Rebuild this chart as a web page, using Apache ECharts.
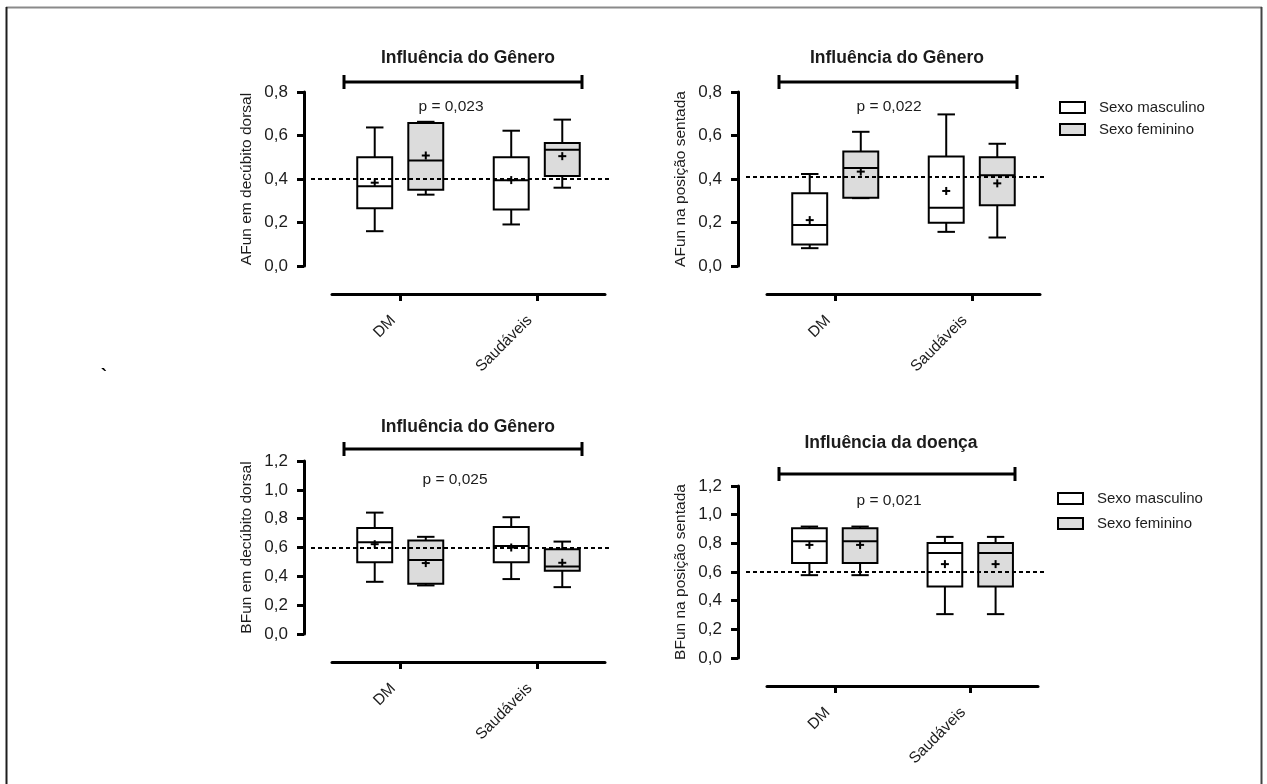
<!DOCTYPE html>
<html><head><meta charset="utf-8">
<script src="https://cdn.jsdelivr.net/npm/echarts@6/dist/echarts.min.js"></script>
<style>html,body{margin:0;padding:0;background:#fff;}#c{width:1267px;height:784px;}</style>
</head><body><div id="c"></div>
<script>
// ---- data ----
const categories = ['DM', 'Saudáveis'];
// each row: [min, Q1, median, Q3, max, mean] for DM and Saudáveis
const afunDorsalMasc  = [[0.160, 0.265, 0.367, 0.500, 0.637, 0.383], [0.191, 0.260, 0.394, 0.500, 0.622, 0.395]];
const afunDorsalFem   = [[0.328, 0.351, 0.485, 0.657, 0.663, 0.508], [0.360, 0.414, 0.534, 0.565, 0.673, 0.505]];
const afunSentadaMasc = [[0.082, 0.099, 0.188, 0.334, 0.423, 0.211], [0.157, 0.199, 0.268, 0.503, 0.697, 0.345]];
const afunSentadaFem  = [[0.312, 0.314, 0.451, 0.526, 0.617, 0.434], [0.131, 0.279, 0.417, 0.500, 0.562, 0.380]];
const bfunDorsalMasc  = [[0.362, 0.498, 0.637, 0.736, 0.842, 0.623], [0.381, 0.498, 0.611, 0.743, 0.810, 0.600]];
const bfunDorsalFem   = [[0.337, 0.348, 0.514, 0.648, 0.674, 0.492], [0.325, 0.438, 0.468, 0.588, 0.641, 0.494]];
const bfunSentadaMasc = [[0.578, 0.662, 0.815, 0.905, 0.917, 0.789], [0.306, 0.499, 0.733, 0.803, 0.845, 0.655]];
const bfunSentadaFem  = [[0.578, 0.662, 0.815, 0.905, 0.917, 0.789], [0.306, 0.499, 0.733, 0.803, 0.845, 0.655]];
const referenceValues = [0.40, 0.41, 0.595, 0.60];
const pValues = ['p = 0,023', 'p = 0,022', 'p = 0,025', 'p = 0,021'];
const panelTitles = ['Influência do Gênero', 'Influência do Gênero', 'Influência do Gênero', 'Influência da doença'];
const yAxisNames = ['AFun em decúbito dorsal', 'AFun na posição sentada', 'BFun em decúbito dorsal', 'BFun na posição sentada'];
const yAxisMax = [0.8, 0.8, 1.2, 1.2];
const yAxisInterval = 0.2;
const legendNames = ['Sexo masculino', 'Sexo feminino'];

const maleSets = [afunDorsalMasc, afunSentadaMasc, bfunDorsalMasc, bfunSentadaMasc];
const femaleSets = [afunDorsalFem, afunSentadaFem, bfunDorsalFem, bfunSentadaFem];

// ---- layout ----
const FONT = "'Liberation Sans', Arial, sans-serif";
const TXT = '#1c1c1c';
const FEM_FILL = '#dcdcdc';
const panels = [
  {left: 332, top: 92,  width: 273, height: 174, yOff: 28, xOff: 28, titleX: 468, titleY: 58,  pX: 451, pY: 107, brY: 82},
  {left: 767, top: 92,  width: 273, height: 174, yOff: 29, xOff: 28, titleX: 897, titleY: 58,  pX: 889, pY: 107, brY: 82},
  {left: 332, top: 461, width: 273, height: 173, yOff: 28, xOff: 28, titleX: 468, titleY: 427, pX: 455, pY: 480, brY: 449},
  {left: 767, top: 486, width: 271, height: 172, yOff: 29, xOff: 28, titleX: 891, titleY: 443, pX: 889, pY: 501, brY: 474}
];

function makeRender(offsetFrac, fill) {
  return function (params, api) {
    const c = api.value(0);
    const band = api.size([1, 0])[0];
    const cx = api.coord([c, 0])[0] + offsetFrac * band;
    const w = band * 0.256, half = w / 2, cap = w / 4;
    const y = i => api.coord([c, api.value(i)])[1];
    const yMin = y(1), yQ1 = y(2), yMed = y(3), yQ3 = y(4), yMax = y(5), yMean = y(6);
    const ls = {stroke: '#000', lineWidth: 2};
    const L = (x1, y1, x2, y2) => ({type: 'line', shape: {x1, y1, x2, y2}, style: ls});
    return {type: 'group', children: [
      L(cx, yQ3, cx, yMax), L(cx - cap, yMax, cx + cap, yMax),
      L(cx, yQ1, cx, yMin), L(cx - cap, yMin, cx + cap, yMin),
      {type: 'rect', shape: {x: cx - half, y: yQ3, width: w, height: yQ1 - yQ3}, style: {fill: fill, stroke: '#000', lineWidth: 2}},
      L(cx - half, yMed, cx + half, yMed),
      L(cx - 4, yMean, cx + 4, yMean), L(cx, yMean - 4, cx, yMean + 4)
    ]};
  };
}

const grid = [], xAxis = [], yAxis = [], series = [], graphic = [];
panels.forEach((p, i) => {
  grid.push({left: p.left, top: p.top, width: p.width, height: p.height});
  xAxis.push({
    gridIndex: i, type: 'category', data: categories, offset: p.xOff, position: 'bottom',
    axisLine: {show: true, onZero: false, lineStyle: {color: '#000', width: 3}},
    axisTick: {show: true, alignWithLabel: true, length: 7, lineStyle: {color: '#000', width: 3}},
    axisLabel: {rotate: 45, fontSize: 15.5, color: TXT, fontFamily: FONT, margin: 17, padding: [0, 10, 0, 0]},
    splitLine: {show: false}
  });
  yAxis.push({
    gridIndex: i, type: 'value', min: 0, max: yAxisMax[i], interval: yAxisInterval, offset: p.yOff, position: 'left',
    splitLine: {show: false},
    axisLine: {show: true, onZero: false, lineStyle: {color: '#000', width: 3}},
    axisTick: {show: true, length: 7, lineStyle: {color: '#000', width: 3}},
    axisLabel: {fontSize: 17, color: TXT, fontFamily: FONT, margin: 16, formatter: v => v.toFixed(1).replace('.', ',')},
    name: yAxisNames[i], nameLocation: 'middle', nameGap: 49,
    nameTextStyle: {fontSize: 15.5, color: TXT, fontFamily: FONT}
  });
  const toData = arr => arr.map((r, k) => [k].concat(r));
  series.push({
    type: 'custom', name: legendNames[0], xAxisIndex: i, yAxisIndex: i,
    renderItem: makeRender(-0.187, '#fff'),
    encode: {x: 0, y: [1, 2, 3, 4, 5, 6]},
    itemStyle: {color: '#fff', borderColor: '#000'},
    data: toData(maleSets[i]),
    markLine: {
      silent: true, symbol: 'none', animation: false, label: {show: false},
      lineStyle: {color: '#000', width: 2, type: [4, 3]},
      data: [[{x: p.left - 21, yAxis: referenceValues[i]}, {x: p.left + p.width + 7, yAxis: referenceValues[i]}]]
    }
  });
  series.push({
    type: 'custom', name: legendNames[1], xAxisIndex: i, yAxisIndex: i,
    renderItem: makeRender(0.187, FEM_FILL),
    encode: {x: 0, y: [1, 2, 3, 4, 5, 6]},
    itemStyle: {color: FEM_FILL, borderColor: '#000'},
    data: toData(femaleSets[i])
  });
  // titles, brackets, p-values
  graphic.push({type: 'text', x: p.titleX, y: p.titleY, style: {text: panelTitles[i], fontSize: 17.5, fontWeight: 'bold', fontFamily: FONT, fill: TXT, align: 'center', verticalAlign: 'middle'}});
  const bx1 = p.left + 12, bx2 = p.left + p.width - 23;
  const bl = {stroke: '#000', lineWidth: 3};
  graphic.push({type: 'line', shape: {x1: bx1, y1: p.brY, x2: bx2, y2: p.brY}, style: bl});
  graphic.push({type: 'line', shape: {x1: bx1, y1: p.brY - 7, x2: bx1, y2: p.brY + 7}, style: bl});
  graphic.push({type: 'line', shape: {x1: bx2, y1: p.brY - 7, x2: bx2, y2: p.brY + 7}, style: bl});
  graphic.push({type: 'text', x: p.pX, y: p.pY, style: {text: pValues[i], fontSize: 15.5, fontFamily: FONT, fill: TXT, align: 'center', verticalAlign: 'middle'}});
});

// frame
graphic.push({type: 'line', shape: {x1: 6, y1: 7.5, x2: 1262, y2: 7.5}, style: {stroke: '#8a8a8a', lineWidth: 2}});
graphic.push({type: 'line', shape: {x1: 6.5, y1: 7, x2: 6.5, y2: 784}, style: {stroke: '#1e1e1e', lineWidth: 2}});
graphic.push({type: 'line', shape: {x1: 1261.5, y1: 7, x2: 1261.5, y2: 784}, style: {stroke: '#444', lineWidth: 2}});
// stray mark
graphic.push({type: 'text', x: 101, y: 368, style: {text: '`', fontSize: 18, fontWeight: 'bold', fontFamily: FONT, fill: '#000'}});

const legendData = [
  {name: legendNames[0], itemStyle: {color: '#fff', borderColor: '#000', borderWidth: 2}},
  {name: legendNames[1], itemStyle: {color: FEM_FILL, borderColor: '#000', borderWidth: 2}}
];
const legendBase = {
  data: legendData, orient: 'vertical', icon: 'rect', itemWidth: 25, itemHeight: 11, itemGap: 7,
  selectedMode: false, padding: 0,
  textStyle: {fontSize: 15, fontFamily: FONT, color: TXT, padding: [0, 0, 0, 9]}
};

const chart = echarts.init(document.getElementById('c'), null, {renderer: 'canvas'});
chart.setOption({
  animation: false,
  backgroundColor: '#fff',
  grid, xAxis, yAxis, series,
  legend: [
    Object.assign({}, legendBase, {left: 1059, top: 100}),
    Object.assign({}, legendBase, {left: 1057, top: 491, itemGap: 10})
  ],
  graphic
});
</script></body></html>
